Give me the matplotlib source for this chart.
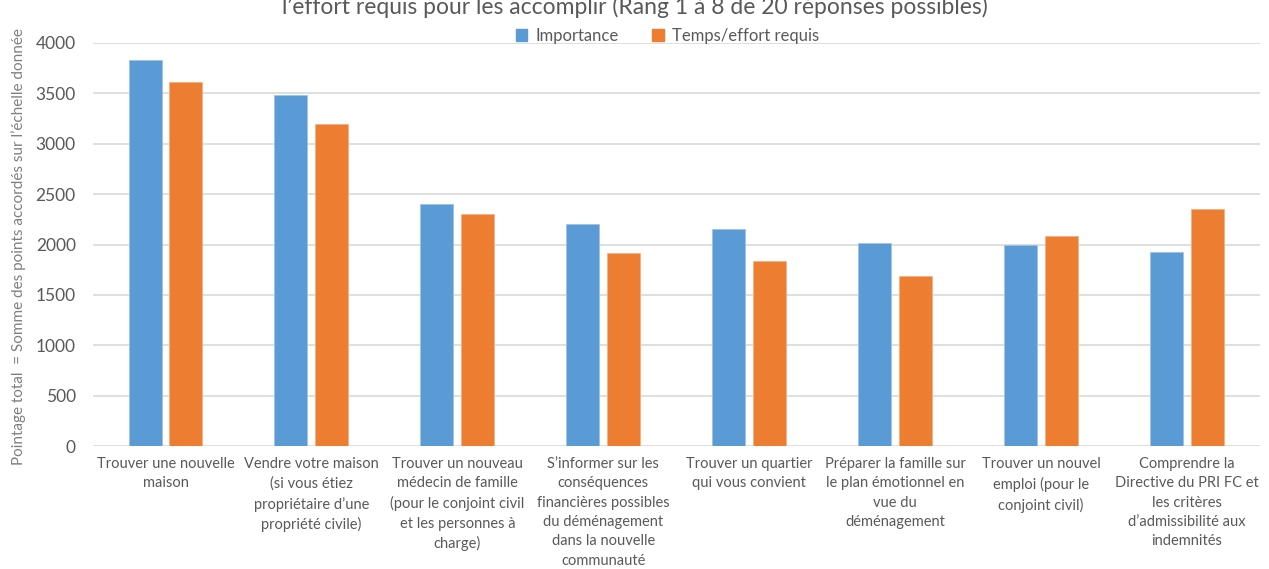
import numpy as np
import matplotlib
matplotlib.use("Agg")
import matplotlib.pyplot as plt
from matplotlib.patches import Patch

plt.rcParams["font.family"] = ["Lato", "DejaVu Sans"]

# données
categories = [
    "Trouver une nouvelle\nmaison",
    "Vendre votre maison\n(si vous étiez\npropriétaire d’une\npropriété civile)",
    "Trouver un nouveau\nmédecin de famille\n(pour le conjoint civil\net les personnes à\ncharge)",
    "S’informer sur les\nconséquences\nfinancières possibles\ndu déménagement\ndans la nouvelle\ncommunauté",
    "Trouver un quartier\nqui vous convient",
    "Préparer la famille sur\nle plan émotionnel en\nvue du\ndéménagement",
    "Trouver un nouvel\nemploi (pour le\nconjoint civil)",
    "Comprendre la\nDirective du PRI FC et\nles critères\nd’admissibilité aux\nindemnités",
]
importance = [3830, 3480, 2400, 2205, 2155, 2017, 1994, 1930]
temps_effort = [3617, 3200, 2305, 1917, 1839, 1692, 2085, 2349]
series_names = ["Importance", "Temps/effort requis"]

bleu = "#5B9BD5"
orange = "#ED7D31"
gris = "#595959"

fig = plt.figure(figsize=(12.69, 5.69), dpi=100)
ax = fig.add_axes([0.0729, 0.216, 0.920, 0.7085])

x = np.arange(len(categories))
w = 0.226
off = 0.14
ax.bar(x - off, importance, w, color=bleu, edgecolor="#9DC3E6", linewidth=0.6, zorder=3)
ax.bar(x + off, temps_effort, w, color=orange, edgecolor="#F4B183", linewidth=0.6, zorder=3)

ax.set_xlim(-0.5, len(categories) - 0.5)
ax.set_ylim(0, 4000)
ax.set_yticks(range(0, 4001, 500))
ax.yaxis.grid(True, color="#D9D9D9", linewidth=1.2, zorder=0)
for s in ax.spines.values():
    s.set_visible(False)
ax.tick_params(axis="y", length=0, labelsize=12.5, labelcolor=gris, pad=12)
ax.tick_params(axis="x", length=0, labelsize=10.5, labelcolor=gris, pad=8)
ax.set_xticks(x)
ax.set_xticklabels(categories, linespacing=1.48)

ax.set_ylabel("Pointage total  = Somme des points accordés sur l’échelle donnée",
              fontsize=11, color="#7F7F7F", labelpad=12)
ax.yaxis.set_label_coords(-0.057, 0.496)

# titre (première ligne coupée dans l'original)
fig.text(0.5, 1 - 14 / 569, "l’effort requis pour les accomplir (Rang 1 à 8 de 20 réponses possibles)",
         ha="center", va="baseline", fontsize=16.5, color=gris)

handles = [Patch(color=bleu), Patch(color=orange)]
fig.legend(handles, series_names, loc="center", bbox_to_anchor=(0.526, 1 - 36 / 569),
           ncol=2, frameon=False, fontsize=12, labelcolor=gris,
           handlelength=0.7, handleheight=0.7, handletextpad=0.5, columnspacing=2.0)

fig.savefig("out.png", dpi=100)
